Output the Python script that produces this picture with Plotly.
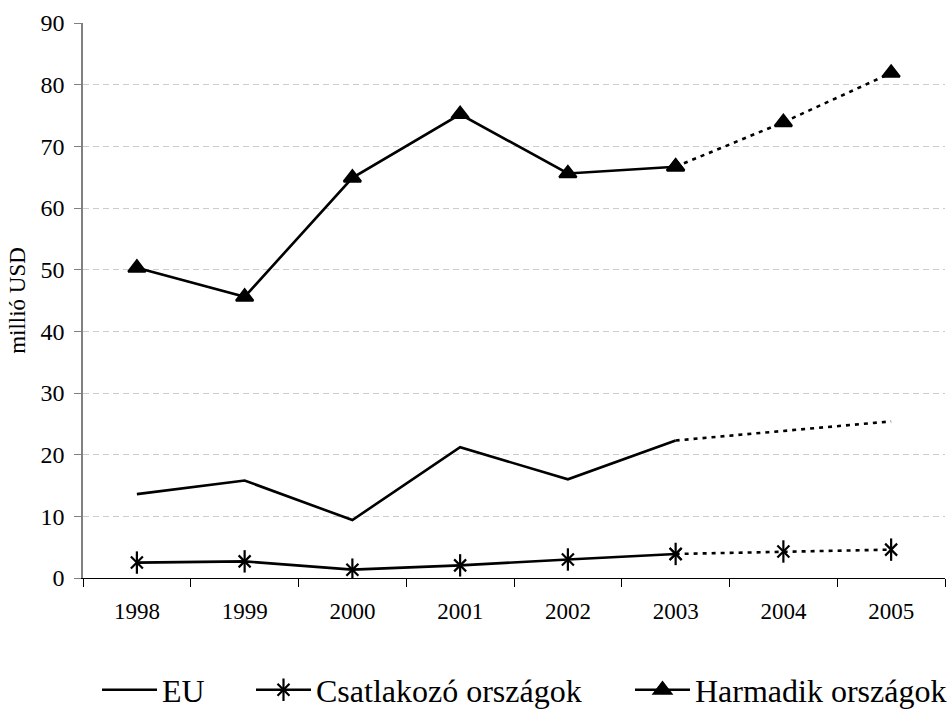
import plotly.graph_objects as go

# Years and series values (million USD); 2004-2005 are forecasts
years = ["1998", "1999", "2000", "2001", "2002", "2003", "2004", "2005"]
eu = [13.6, 15.8, 9.4, 21.2, 16.0, 22.3, 23.8, 25.4]
csatlakozo = [2.5, 2.7, 1.35, 2.05, 3.0, 3.9, 4.3, 4.6]
harmadik = [50.3, 45.6, 64.9, 75.2, 65.6, 66.7, 73.9, 81.9]

names = ["EU", "Csatlakozó országok", "Harmadik országok"]
y_ticks = [0, 10, 20, 30, 40, 50, 60, 70, 80, 90]

FONT = "Times New Roman"
BLACK = "#000000"
LW = 2.6
DOT = "4px,5px"
ACT = 6  # number of actual (non-forecast) years

fig = go.Figure()


def add_series(values, name, legend, symbol=None, size=12,
               extra_symbol=None, extra_legend=None):
    mode = "lines+markers" if symbol else "lines"
    marker = dict(symbol=symbol, size=size, color=BLACK,
                  line=dict(color=BLACK, width=2.2)) if symbol else None
    # actual part: solid line
    fig.add_trace(go.Scatter(
        x=years[:ACT], y=values[:ACT], name=name, mode=mode,
        line=dict(color=BLACK, width=LW), marker=marker,
        legend=legend, showlegend=True, hoverinfo="skip"))
    # forecast part: dotted line
    fig.add_trace(go.Scatter(
        x=years[ACT - 1:], y=values[ACT - 1:], mode=mode,
        line=dict(color=BLACK, width=LW, dash=DOT), marker=marker,
        showlegend=False, hoverinfo="skip"))
    if extra_symbol:
        # vertical stroke completing the asterisk marker
        fig.add_trace(go.Scatter(
            x=years, y=values, mode="markers", name=" ",
            marker=dict(symbol=extra_symbol, size=size + 4, color=BLACK,
                        line=dict(color=BLACK, width=2.2)),
            legend=extra_legend, showlegend=extra_legend is not None,
            hoverinfo="skip"))


add_series(eu, names[0], "legend")
add_series(csatlakozo, names[1], "legend2", symbol="x-thin-open", size=12,
           extra_symbol="line-ns-open", extra_legend="legend4")
add_series(harmadik, names[2], "legend3", symbol="triangle-up", size=15)

legend_common = dict(
    orientation="h", xref="container", yref="container",
    yanchor="middle", y=1 - 690 / 717, xanchor="left",
    font=dict(family=FONT, size=32, color=BLACK),
    bgcolor="rgba(0,0,0,0)", itemwidth=55,
)

fig.update_layout(
    width=948, height=717,
    margin=dict(l=83, r=3, t=23, b=139),
    paper_bgcolor="white", plot_bgcolor="white",
    font=dict(family=FONT, color=BLACK),
    legend=dict(legend_common, x=97 / 948),
    legend2=dict(legend_common, x=251 / 948),
    legend3=dict(legend_common, x=630 / 948),
    legend4=dict(legend_common, x=251 / 948),
    xaxis=dict(
        type="category", range=[-0.5, 7.5],
        tickson="boundaries", ticks="outside", ticklen=8,
        tickcolor=BLACK, tickwidth=1,
        showline=True, linecolor=BLACK, linewidth=1.2,
        showgrid=False, zeroline=False,
        ticklabelstandoff=12,
        tickfont=dict(family=FONT, size=23, color=BLACK),
    ),
    yaxis=dict(
        range=[0, 90], tickvals=y_ticks,
        ticks="outside", ticklen=7, tickcolor="#808080", tickwidth=1,
        showline=True, linecolor="#808080", linewidth=1.5,
        showgrid=True, gridcolor="#cccccc", gridwidth=1, griddash="6px,4px",
        zeroline=False,
        ticklabelstandoff=5,
        tickfont=dict(family=FONT, size=24, color=BLACK),
        title=dict(text="millió USD", font=dict(family=FONT, size=23, color=BLACK),
                   standoff=8),
    ),
)

fig.write_html("out.html")
